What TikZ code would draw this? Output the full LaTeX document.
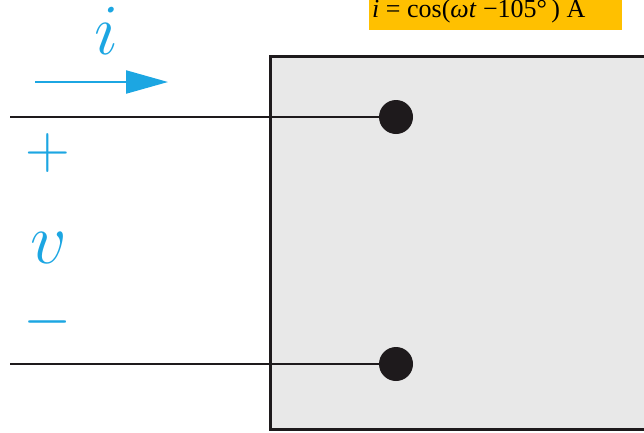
\RequirePackage{fix-cm}
\documentclass[tikz,border=0pt]{standalone}
\usepackage{fontspec}
\setmainfont{Liberation Serif}
\usetikzlibrary{arrows.meta}
\definecolor{cyanblue}{HTML}{1CA6E2}
\definecolor{boxgray}{HTML}{E8E8E8}
\definecolor{labelyellow}{HTML}{FFC000}
\definecolor{ink}{HTML}{1E1A1C}
\tikzset{
  wire/.style={draw=ink, line width=2.6pt},
  terminal/.style={circle, fill=ink, minimum size=34pt, inner sep=0pt},
  bluelabel/.style={text=cyanblue, inner sep=0pt, anchor=base, font=\fontsize{72}{72}\selectfont},
  signlabel/.style={text=cyanblue, inner sep=0pt, font=\fontsize{62}{62}\selectfont},
}
\begin{document}
\begin{tikzpicture}[x=1pt,y=-1pt]
\useasboundingbox (0,0) rectangle (644,432);
% device box
\fill[boxgray] (270.5,56.5) rectangle (650,429.5);
\draw[draw=ink, line width=2.7pt] (650,56.5) -- (270.5,56.5) -- (270.5,429.5) -- (650,429.5);
% terminals
\node[terminal] (t1) at (396,117) {};
\node[terminal] (t2) at (396,364) {};
\coordinate (w1) at (10,117);
\coordinate (w2) at (10,364);
\draw[wire] (w1) -- (t1.center);
\draw[wire] (w2) -- (t2.center);
% current arrow
\coordinate (a1) at (35,82);
\coordinate (a2) at (168,82);
\draw[draw=cyanblue, line width=2.2pt, -{Triangle[length=42pt,width=23pt]}] (a1) -- (a2);
\node[bluelabel] (ilab) at (107,54) {$i$};
\node[signlabel] (plus) at (48,153) {$+$};
\node[bluelabel] (vlab) at (49,263) {$v$};
\node[signlabel] (minus) at (48,322) {$-$};
% yellow expression
\fill[labelyellow] (369,-1) rectangle (622,29.5);
\node[anchor=base west, inner sep=0pt, font=\fontsize{26}{26}\selectfont] (expr) at (372,17.5)
  {\textit{i} = cos(\textit{ωt} −105°\,) A};
\end{tikzpicture}
\end{document}
